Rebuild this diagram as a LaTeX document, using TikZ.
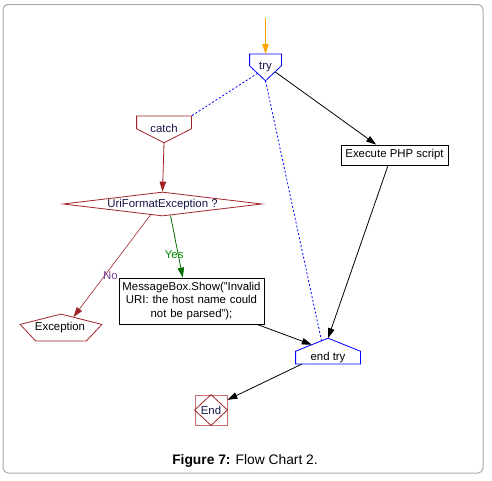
\documentclass[tikz,border=0pt]{standalone}
\usepackage{fontspec}
\setmainfont{Liberation Sans}
\usetikzlibrary{arrows.meta, calc, shapes.geometric}
\definecolor{tryblue}{RGB}{0,0,255}
\definecolor{catchred}{RGB}{160,35,40}
\definecolor{endred}{RGB}{205,110,110}
\definecolor{yesgreen}{RGB}{0,110,0}
\definecolor{nopurple}{RGB}{120,60,140}
\definecolor{startorange}{RGB}{255,165,0}
\definecolor{framegray}{RGB}{170,170,170}
\definecolor{labelnavy}{RGB}{20,20,70}

\begin{document}
\begin{tikzpicture}[
    x=1pt, y=-1pt, font=\fontsize{11.4}{13.5}\selectfont, line width=0.8pt,
    >={Triangle[length=10pt,width=6.5pt]},
    body/.style    ={rectangle, draw=none, inner sep=0pt},
    decision/.style={diamond, aspect=8.3, draw=catchred, text=labelnavy, inner sep=0pt, text height=7pt, text depth=0pt, minimum width=199, minimum height=24},
    proc/.style    ={rectangle, draw=black, inner sep=2pt, align=center},
    finish/.style  ={rectangle, draw=endred, minimum width=32, minimum height=30, inner sep=0pt},
    dotline/.style ={tryblue, dash pattern=on 2pt off 2pt},
    lbl/.style     ={inner sep=0pt, text=labelnavy},
]
\useasboundingbox (0,0) rectangle (492,480);
\draw[framegray, line width=1pt, rounded corners=5pt] (3,4.5) rectangle (483,473);

\coordinate (start) at (265.5,18);
% try / catch / end try blocks
\node[body, minimum width=31, minimum height=11, anchor=north, label={[lbl, yshift=-7.5pt]center:try}] (try) at (265.5,54) {};
\coordinate (trytip) at ($(try.south)+(0,15)$);
\draw[tryblue] (try.north west) -- (try.north east) -- (try.south east) -- (trytip) -- (try.south west) -- cycle;
\node[body, minimum width=54, minimum height=12, anchor=north, label={[lbl, yshift=-6.5pt]center:catch}] (catch) at (164,116) {};
\coordinate (catchtip) at ($(catch.south)+(0,14)$);
\draw[catchred] (catch.north west) -- (catch.north east) -- (catch.south east) -- (catchtip) -- (catch.south west) -- cycle;
\node[body, minimum width=64, minimum height=12, anchor=south, label={[lbl, text=black]center:end try}] (endtry) at (328,364) {};
\coordinate (endtip) at ($(endtry.north)+(0,-13)$);
\draw[tryblue] (endtry.south west) -- (endtry.south east) -- (endtry.north east) -- (endtip) -- (endtry.north west) -- cycle;

\node[decision] (check) at (162.5,204) {UriFormatException ?};
\node[proc, minimum width=107, minimum height=20] (exec) at (394.5,155) {Execute PHP script};
\node[proc, text width=141, minimum height=46] (msgbox) at (191.5,301) {MessageBox.Show("Invalid\\URI: the host name could\\not be parsed");};
\begin{scope}[shift={(61,329)}, yscale=0.346]
  \node[regular polygon, regular polygon sides=5, minimum size=86, transform shape, draw=catchred, inner sep=0pt] (excshape) at (0,0) {};
\end{scope}
\node[lbl, text=black] (exc) at (60,328) {Exception};
\node[finish] (fin) at (211,410) {};
\draw[catchred] (fin.north) -- (fin.east) -- (fin.south) -- (fin.west) -- cycle;
\node[lbl] (finlbl) at (211,410) {End};
\node[font=\fontsize{13.8}{16}\selectfont] (caption) at (245,461) {\textbf{Figure 7:} Flow Chart 2.};

\draw[->, startorange] (start) -- (try.north);
\draw[dotline] ($(trytip)!0.5!(try.south west)$) -- (catch.north east);
\draw[dotline] (trytip) -- ($(endtip)!0.2!(endtry.north west)$);
\draw[->] ($(trytip)!0.6!(try.south east)$) -- ($(exec.north west)!0.33!(exec.north east)$);
\draw[->] ($(exec.south west)!0.44!(exec.south east)$) -- (endtip);
\draw[->, catchred] (catchtip) -- (check.north);
\draw[->, catchred, line width=0.6pt] ($(check.south)!0.12!(check.west)$) -- node[pos=0.59, xshift=5.5pt, lbl, text=nopurple] {No} ($(excshape.corner 1)!0.3!(excshape.corner 5)$);
\draw[->, yesgreen] ($(check.south)!0.08!(check.east)$) -- node[pos=0.63, xshift=-4pt, lbl, text=yesgreen!80!green] {Yes} ($(msgbox.north west)!0.44!(msgbox.north east)$);
\draw[->] ($(msgbox.south west)!0.95!(msgbox.south east)$) -- ($(endtip)!0.5!(endtry.north west)$);
\draw[->] ($(endtry.south)+(-26,0)$) -- ($(fin.north east)!0.17!(fin.south east)$);
\end{tikzpicture}
\end{document}
